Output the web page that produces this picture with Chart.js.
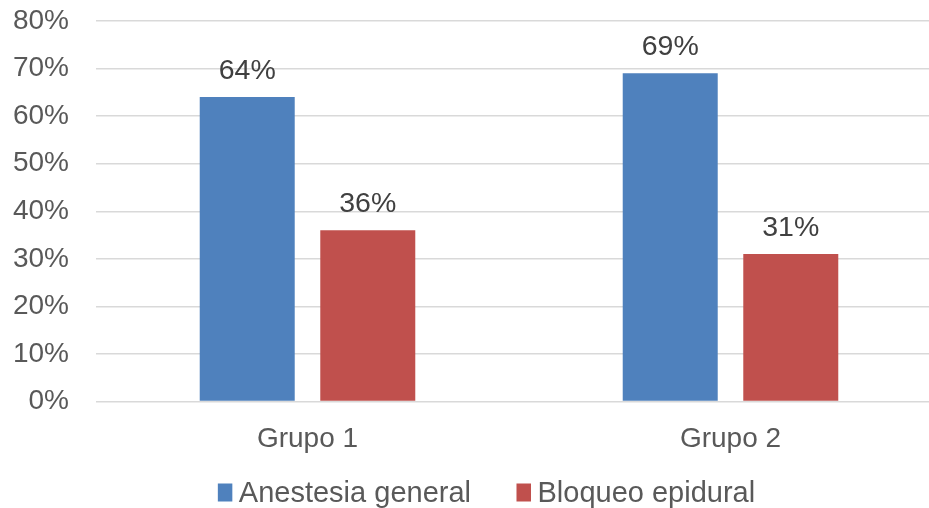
<!DOCTYPE html>
<html>
<head>
<meta charset="utf-8">
<script src="https://cdn.jsdelivr.net/npm/chart.js@4/dist/chart.umd.min.js"></script>
<style>
  html, body { margin: 0; padding: 0; background: #fff; overflow: hidden; width: 929px; height: 508px; }
  canvas { display: block; }
</style>
</head>
<body>
<canvas id="chart" width="942" height="508"></canvas>
<script>
// Chart data
const categories = ['Grupo 1', 'Grupo 2'];
const seriesNames = ['Anestesia general', 'Bloqueo epidural'];
const anestesiaGeneral = [64, 69];
const bloqueoEpidural = [36, 31];
const yTickValues = [0, 10, 20, 30, 40, 50, 60, 70, 80];

const seriesColors = ['#4f81bd', '#c0504d'];
const FONT = '"Liberation Sans", Arial, sans-serif';

// Percentage labels above each bar
const valueLabels = {
  id: 'valueLabels',
  afterDatasetsDraw(chart) {
    const ctx = chart.ctx;
    ctx.save();
    ctx.font = '28.5px ' + FONT;
    ctx.fillStyle = '#404040';
    ctx.textAlign = 'center';
    ctx.textBaseline = 'alphabetic';
    chart.data.datasets.forEach((ds, i) => {
      chart.getDatasetMeta(i).data.forEach((bar, j) => {
        ctx.fillText(ds.data[j] + '%', bar.x, bar.y - 18);
      });
    });
    ctx.restore();
  }
};

// Legend row under the axis
const bottomLegend = {
  id: 'bottomLegend',
  afterDraw(chart) {
    const ctx = chart.ctx;
    ctx.save();
    ctx.font = '29px ' + FONT;
    const boxW = 14.5, boxH = 18, gap = 6.5, spacing = 45.5;
    const widths = chart.data.datasets.map(ds => ctx.measureText(ds.label).width);
    const total = widths.reduce((a, w) => a + boxW + gap + w, 0) + spacing * (widths.length - 1);
    let x = 486.5 - total / 2;
    const baseline = 502;
    chart.data.datasets.forEach((ds, i) => {
      ctx.fillStyle = ds.backgroundColor;
      ctx.fillRect(x, baseline - 18.5, boxW, boxH);
      x += boxW + gap;
      ctx.fillStyle = '#595959';
      ctx.textAlign = 'left';
      ctx.textBaseline = 'alphabetic';
      ctx.fillText(ds.label, x, baseline);
      x += widths[i] + spacing;
    });
    ctx.restore();
  }
};

new Chart(document.getElementById('chart'), {
  type: 'bar',
  data: {
    labels: categories,
    datasets: [
      { label: seriesNames[0], data: anestesiaGeneral, backgroundColor: seriesColors[0] },
      { label: seriesNames[1], data: bloqueoEpidural, backgroundColor: seriesColors[1] }
    ]
  },
  options: {
    responsive: false,
    animation: false,
    devicePixelRatio: 1,
    categoryPercentage: 0.57,
    barPercentage: 0.788,
    layout: { padding: { top: 21, bottom: 46.5, left: 0, right: 0 } },
    plugins: {
      legend: { display: false },
      title: { display: false },
      tooltip: { enabled: false }
    },
    scales: {
      x: {
        grid: { display: false },
        border: { display: false },
        ticks: { font: { family: FONT, size: 28 }, color: '#595959', padding: 13 },
        afterFit(scale) { scale.height = 60; scale.paddingTop = 0; scale.paddingBottom = 0; }
      },
      y: {
        min: yTickValues[0],
        max: yTickValues[yTickValues.length - 1],
        afterBuildTicks(scale) { scale.ticks = yTickValues.map(v => ({ value: v })); },
        ticks: {
          font: { family: FONT, size: 28 },
          color: '#595959',
          padding: 27,
          callback: v => v + '%'
        },
        grid: { color: '#d9d9d9', lineWidth: 1.5, drawTicks: false },
        border: { display: false },
        afterFit(scale) { scale.width = 96; scale.paddingTop = 0; scale.paddingBottom = 0; }
      }
    }
  },
  plugins: [valueLabels, bottomLegend]
});
</script>
</body>
</html>
